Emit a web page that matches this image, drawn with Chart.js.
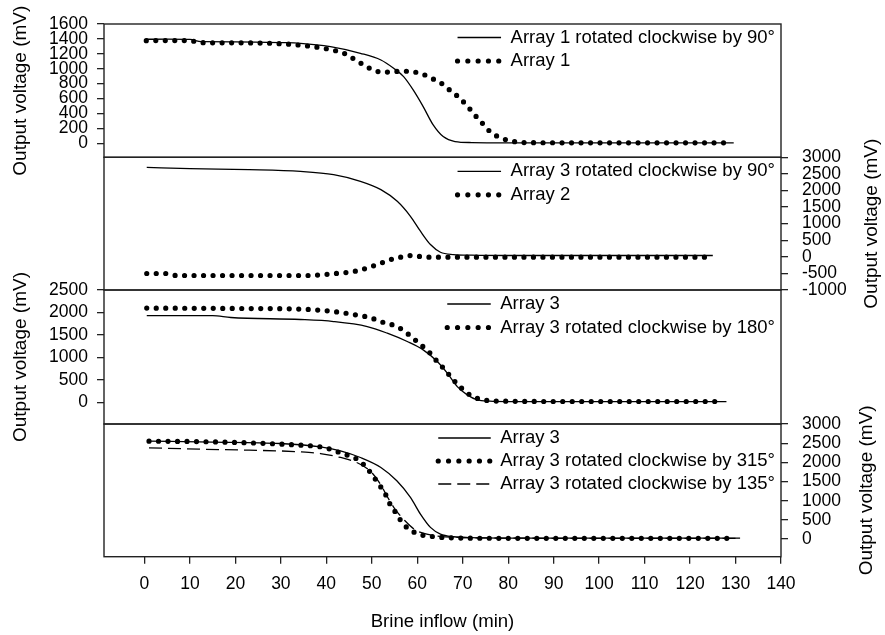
<!DOCTYPE html>
<html>
<head>
<meta charset="utf-8">
<script src="https://cdn.jsdelivr.net/npm/chart.js@4.4.1/dist/chart.umd.min.js"></script>
<style>
html,body{margin:0;padding:0;background:#fff;width:885px;height:635px;overflow:hidden}
#wrap{position:relative;width:885px;height:635px}
#wrap canvas{position:absolute;left:0;top:0}
</style>
</head>
<body>
<div id="wrap">
<canvas id="c1" width="885" height="635"></canvas>
<canvas id="c2" width="885" height="635"></canvas>
<canvas id="c3" width="885" height="635"></canvas>
<canvas id="c4" width="885" height="635"></canvas>
</div>
<script>
// ---------- data ----------
const xTicks = [0,10,20,30,40,50,60,70,80,90,100,110,120,130,140];
const p1Ticks = [0,200,400,600,800,1000,1200,1400,1600];
const p2Ticks = [-1000,-500,0,500,1000,1500,2000,2500,3000];
const p3Ticks = [0,500,1000,1500,2000,2500];
const p4Ticks = [0,500,1000,1500,2000,2500,3000];

const xTitle = 'Brine inflow (min)';
const yTitle = 'Output voltage (mV)';

// Panel 1
const p1RotLabel = 'Array 1 rotated clockwise by 90°';
const p1RotT = [0.3, 5, 10, 12.5, 20, 30, 34.3, 40.9, 47.5, 52, 54.8, 57, 59.1, 61.3, 63.5, 65.7, 68.3, 72, 80, 90, 100, 110, 120, 129.6];
const p1RotV = [1395, 1396, 1393, 1362, 1360, 1350, 1341, 1296, 1207, 1117, 1006, 893, 715, 491, 245, 88, 21, 8, 5, 5, 5, 5, 5, 5];
const p1ArrLabel = 'Array 1';
const p1ArrT = [0.4, 5, 10, 12.5, 20, 30, 35.8, 40.2, 44.2, 46.4, 48.6, 50.6, 52.6, 54.7, 56.8, 58.9, 61.1, 63.1, 65.1, 67.1, 69.2, 71, 72.5, 74.3, 76, 78, 80.2, 82.2, 86, 95, 105, 115, 128.5];
const p1ArrV = [1376, 1378, 1376, 1349, 1347, 1335, 1305, 1265, 1198, 1117, 1037, 974, 952, 960, 966, 960, 929, 872, 813, 715, 612, 500, 389, 268, 156, 80, 35, 13, 6, 5, 5, 5, 5];

// Panel 2
const p2RotLabel = 'Array 3 rotated clockwise by 90°';
const p2RotT = [0.5, 10, 23, 34.3, 41.6, 47.5, 52, 55.6, 58.5, 60.7, 62.9, 65.1, 68, 72, 80, 90, 100, 110, 125];
const p2RotV = [2697, 2658, 2628, 2575, 2477, 2276, 2026, 1674, 1222, 771, 370, 139, 69, 50, 40, 40, 40, 40, 40];
const p2ArrLabel = 'Array 2';
const p2ArrT = [0.5, 4.7, 7, 20, 35.8, 42, 46.4, 48.6, 50.6, 52.6, 54.7, 56.8, 58.9, 61.1, 63.1, 70, 80, 90, 100, 110, 124];
const p2ArrV = [-503, -503, -563, -563, -563, -503, -433, -352, -262, -162, -60, 0, 40, 0, -10, -10, -10, -10, -10, -10, -10];

// Panel 3
const p3ArrLabel = 'Array 3';
const p3ArrT = [0.5, 15, 19, 34.3, 41.6, 49, 53.4, 57.8, 61.3, 64.4, 66.6, 68.8, 71, 73.2, 76, 80, 90, 100, 110, 120, 128];
const p3ArrV = [1933, 1930, 1889, 1845, 1800, 1689, 1541, 1356, 1171, 911, 653, 356, 171, 60, 31, 22, 20, 20, 20, 20, 20];
const p3RotLabel = 'Array 3 rotated clockwise by 180°';
const p3RotT = [0.5, 20, 34.3, 40.2, 44.2, 46.4, 48.6, 50.6, 52.6, 54.7, 56.8, 58.9, 60.8, 62.7, 64.4, 66.1, 67.8, 69.6, 71.6, 73.6, 75.8, 80, 90, 100, 110, 127];
const p3RotV = [2098, 2090, 2075, 2037, 1986, 1948, 1911, 1853, 1778, 1720, 1615, 1444, 1282, 1111, 911, 727, 520, 333, 171, 82, 44, 30, 25, 25, 25, 25];

// Panel 4
const p4ArrLabel = 'Array 3';
const p4ArrT = [1, 15, 29.8, 38.7, 43.1, 47.5, 52, 55.5, 58.5, 60.7, 62.9, 65.1, 68, 72, 80, 90, 100, 110, 120, 131];
const p4ArrV = [2552, 2530, 2491, 2404, 2300, 2127, 1867, 1519, 1086, 651, 304, 130, 60, 35, 26, 25, 25, 25, 25, 25];
const p4R315Label = 'Array 3 rotated clockwise by 315°';
const p4R315T = [1, 15, 34.3, 38.7, 40.9, 42.9, 45, 47, 48.8, 50.4, 51.9, 53.1, 54, 55.5, 56.8, 59, 61, 63.1, 65.2, 70, 80, 90, 100, 110, 120, 130];
const p4R315V = [2552, 2534, 2448, 2404, 2344, 2257, 2170, 2066, 1867, 1623, 1372, 1146, 911, 651, 409, 200, 104, 70, 44, 25, 20, 18, 18, 18, 18, 18];
const p4R135Label = 'Array 3 rotated clockwise by 135°';
const p4R135T = [1, 12, 23, 34.3, 38.7, 43.1, 46.7, 49.6, 51.9, 53.3, 55.1, 57.3, 59.6, 62.1, 65, 70, 80, 90, 100, 110, 120, 130];
const p4R135V = [2378, 2344, 2318, 2274, 2230, 2127, 1997, 1779, 1432, 1128, 781, 477, 234, 130, 70, 40, 25, 20, 20, 20, 20, 20];

// ---------- layout / style ----------
const FONT = '"Liberation Sans", Arial, Helvetica, sans-serif';
const W = 885, H = 635;
const PLOT_L = 104, PLOT_R = 781;
const BOUNDS = [24, 157.3, 290, 424, 556.7];
const INK = '#000';
const FRAME = '#222';

function pts(t, v) { return t.map((x, i) => ({x: x, y: v[i]})); }
function solid(label, t, v) {
  return {label, data: pts(t, v), borderColor: INK, borderWidth: 1.3, pointRadius: 0,
    cubicInterpolationMode: 'monotone', fill: false, keyDash: []};
}
function dotted(label, t, v) {
  return {label, data: pts(t, v), borderColor: INK, borderWidth: 5.2, borderDash: [0, 9.5],
    borderCapStyle: 'round', pointRadius: 0, cubicInterpolationMode: 'monotone', fill: false, keyDash: [0, 10.3]};
}
function dashed(label, t, v) {
  return {label, data: pts(t, v), borderColor: INK, borderWidth: 1.3, borderDash: [13, 6],
    pointRadius: 0, cubicInterpolationMode: 'monotone', fill: false, keyDash: [13, 6]};
}

const framePlugin = {
  id: 'frame',
  afterDraw(chart) {
    const {ctx, chartArea: a} = chart;
    ctx.save();
    ctx.strokeStyle = FRAME;
    ctx.lineWidth = 1.4;
    ctx.strokeRect(a.left, a.top, a.right - a.left, a.bottom - a.top);
    ctx.restore();
  }
};

// y-axis title on the right side, reading bottom-to-top like the left ones
const rightTitlePlugin = {
  id: 'rightTitle',
  afterDraw(chart, args, o) {
    if (!o || !o.text) return;
    const {ctx, chartArea: a} = chart;
    const ys = chart.scales.y;
    ctx.save();
    ctx.font = o.size + 'px ' + FONT;
    ctx.fillStyle = INK;
    ctx.textAlign = 'center';
    ctx.textBaseline = 'middle';
    ctx.translate(ys.right - o.offset, (a.top + a.bottom) / 2);
    ctx.rotate(-Math.PI / 2);
    ctx.fillText(o.text, 0, 0);
    ctx.restore();
  }
};

const keyPlugin = {
  id: 'panelKey',
  afterDraw(chart, args, o) {
    const {ctx, chartArea: a} = chart;
    ctx.save();
    ctx.font = o.size + 'px ' + FONT;
    const ds = chart.data.datasets;
    const maxW = Math.max(...ds.map(d => ctx.measureText(d.label).width));
    const tx = a.right - o.rightPad - maxW;
    const sx = tx - o.gap - o.sampleW;
    ds.forEach((d, i) => {
      const y = a.top + o.firstRow + i * o.rowGap;
      ctx.beginPath();
      ctx.setLineDash(d.keyDash || []);
      ctx.lineCap = d.borderCapStyle || 'butt';
      ctx.lineWidth = d.borderWidth;
      ctx.strokeStyle = d.borderColor;
      ctx.moveTo(sx, y);
      ctx.lineTo(sx + o.sampleW + 0.5, y);
      ctx.stroke();
      ctx.setLineDash([]);
      ctx.fillStyle = INK;
      ctx.textBaseline = 'middle';
      ctx.textAlign = 'left';
      ctx.fillText(d.label, tx, y);
    });
    ctx.restore();
  }
};

function panel(id, idx, side, yMin, yMax, yTicks, datasets, key, titlePad) {
  const top = BOUNDS[idx], bottom = BOUNDS[idx + 1];
  const last = idx === 3;
  const left = side === 'left';
  const padding = {
    top: top,
    bottom: last ? 0 : H - bottom,
    left: left ? 0 : PLOT_L,
    right: left ? W - PLOT_R : 0
  };
  return new Chart(document.getElementById(id), {
    type: 'line',
    data: {datasets},
    plugins: [framePlugin, keyPlugin, rightTitlePlugin],
    options: {
      responsive: false,
      animation: false,
      devicePixelRatio: 1,
      layout: {padding},
      events: [],
      plugins: {
        legend: {display: false},
        tooltip: {enabled: false},
        panelKey: key,
        rightTitle: left ? {} : {text: yTitle, size: 19, offset: titlePad}
      },
      scales: {
        x: {
          type: 'linear', min: -8.9, max: 140,
          display: last,
          afterBuildTicks: s => { s.ticks = xTicks.map(v => ({value: v})); },
          afterFit: s => { if (last) s.height = H - bottom; },
          ticks: {font: {family: FONT, size: 17.5}, color: INK, padding: 10, maxRotation: 0,
            autoSkip: false, callback: v => String(v)},
          grid: {drawOnChartArea: false, drawTicks: true, tickLength: 7, color: FRAME, lineWidth: 1.3},
          border: {display: false},
          title: {display: true, text: xTitle, color: INK, font: {family: FONT, size: 18.6},
            padding: {top: 0, bottom: 2}}
        },
        y: {
          type: 'linear', position: side, min: yMin, max: yMax,
          afterBuildTicks: s => { s.ticks = yTicks.map(v => ({value: v})); },
          afterFit: s => { s.width = left ? PLOT_L : W - PLOT_R; },
          ticks: {font: {family: FONT, size: 17.5}, color: INK, padding: left ? 9 : 14,
            autoSkip: false, callback: v => String(v)},
          grid: {drawOnChartArea: false, drawTicks: true, tickLength: 7, color: FRAME, lineWidth: 1.3},
          border: {display: false},
          title: {display: left, text: yTitle, color: INK, font: {family: FONT, size: 19},
            padding: {top: titlePad, bottom: 0}}
        }
      }
    }
  });
}

const keyBase = {size: 18.5, rightPad: 6, gap: 10, sampleW: 43, firstRow: 14, rowGap: 23.5};

panel('c1', 0, 'left', -190, 1600, p1Ticks,
  [solid(p1RotLabel, p1RotT, p1RotV), dotted(p1ArrLabel, p1ArrT, p1ArrV)],
  Object.assign({}, keyBase, {firstRow: 13.5}), 9);

panel('c2', 1, 'right', -1000, 3000, p2Ticks,
  [solid(p2RotLabel, p2RotT, p2RotV), dotted(p2ArrLabel, p2ArrT, p2ArrV)],
  Object.assign({}, keyBase), 13);

panel('c3', 2, 'left', -475, 2500, p3Ticks,
  [solid(p3ArrLabel, p3ArrT, p3ArrV), dotted(p3RotLabel, p3RotT, p3RotV)],
  Object.assign({}, keyBase), 9);

panel('c4', 3, 'right', -460, 3000, p4Ticks,
  [solid(p4ArrLabel, p4ArrT, p4ArrV), dotted(p4R315Label, p4R315T, p4R315V), dashed(p4R135Label, p4R135T, p4R135V)],
  Object.assign({}, keyBase, {sampleW: 52, rowGap: 23}), 18.5);
</script>
</body>
</html>
